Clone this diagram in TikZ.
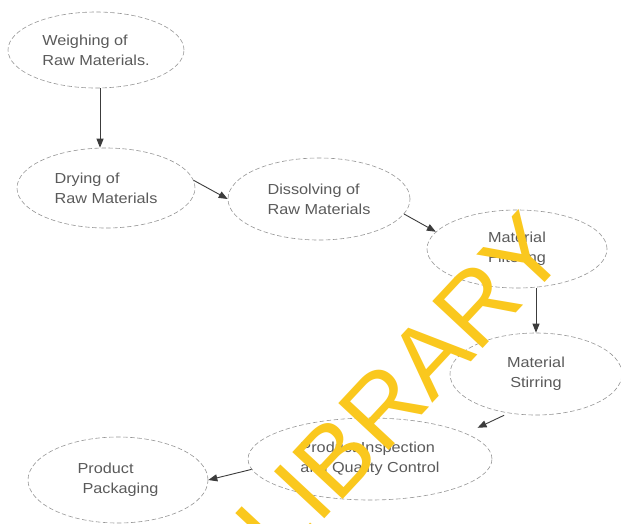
\documentclass[tikz,border=0pt]{standalone}
\usepackage{fontspec}
\usetikzlibrary{shapes.geometric,arrows.meta}
\newfontfamily\diagfont[FakeStretch=1.12]{Liberation Sans}
\newfontfamily\markfont{Liberation Sans}
\definecolor{textgray}{RGB}{90,90,90}
\definecolor{linegray}{RGB}{150,150,150}
\definecolor{arrowgray}{RGB}{60,60,60}
\definecolor{markyellow}{RGB}{250,200,30}

\begin{document}
\begin{tikzpicture}[x=1pt,y=-1pt]
\tikzstyle{every node}+=[inner sep=0pt]
\tikzstyle{stage}=[ellipse,draw=linegray,dash pattern=on 4.5pt off 2.5pt,line width=0.6pt,text=textgray,font=\diagfont\fontsize{14.5}{20}\selectfont,align=left]
\tikzstyle{flow}=[draw=arrowgray,line width=0.9pt,-{Triangle[length=9pt,width=7pt]}]
\fill [white] (0,0) rectangle (621,523);
\useasboundingbox (0,0) rectangle (621,523);
\node [stage,minimum width=176,minimum height=76] (weigh) at (96,50) {Weighing of\\Raw Materials.};
\node [stage,minimum width=178,minimum height=80] (dry) at (106,188) {Drying of\\Raw Materials};
\node [stage,minimum width=182,minimum height=82] (diss) at (319,199) {Dissolving of\\Raw Materials};
\node [stage,align=center,minimum width=180,minimum height=78] (filt) at (517,249) {Material\\Filtering};
\node [stage,align=center,minimum width=172,minimum height=82] (stir) at (536,374) {Material\\Stirring};
\node [stage,minimum width=244,minimum height=82] (insp) at (370,459) {Product Inspection\\and Quality Control};
\node [stage,minimum width=180,minimum height=86] (pack) at (118,480) {Product\\\hspace*{5pt}Packaging};
\draw [flow] (weigh.-84) -- (weigh.-84 |- dry.north);
\draw [flow] (dry.5) -- (diss.west);
\draw [flow] (diss.-10) -- (filt.168);
\draw [flow] (stir.north |- filt.south) -- (stir.north);
\draw [flow,shorten <=5pt,shorten >=13pt] (stir.235) -- (insp.15);
\draw [flow] (insp.185) -- (pack.east);
% watermark
\node [font=\markfont\fontsize{100}{100}\selectfont,text=markyellow,rotate=47] (mark) at (401,387) {LIBRARY};
\end{tikzpicture}
\end{document}
